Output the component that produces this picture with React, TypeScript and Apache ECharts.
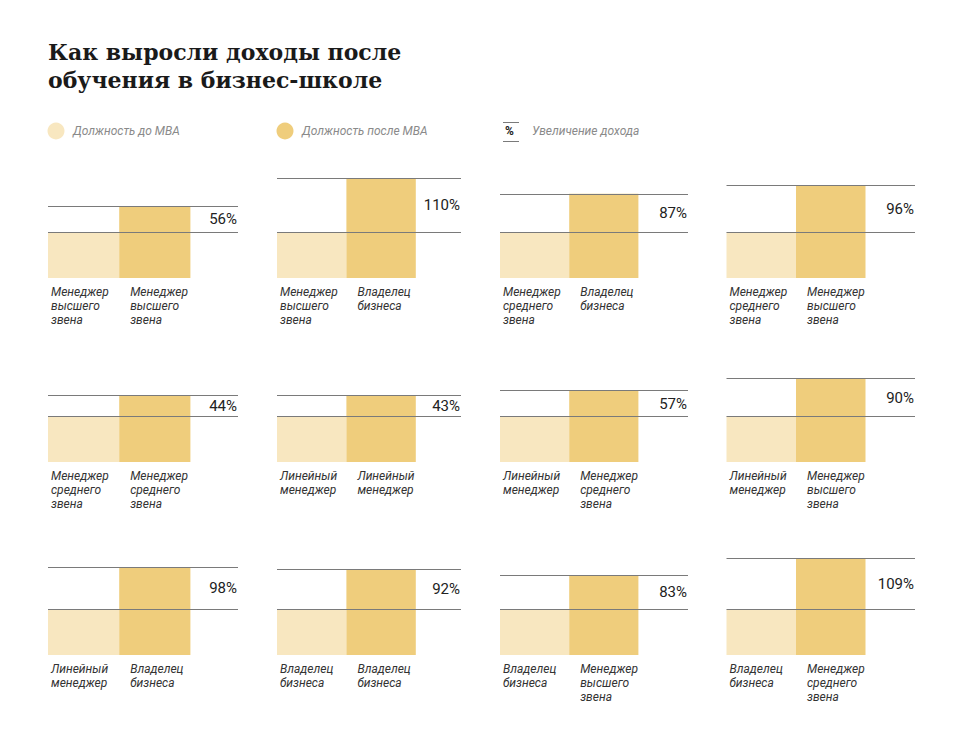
import React, { useEffect, useRef } from "react";
import * as echarts from "echarts";

const titleText = "Как выросли доходы после\nобучения в бизнес-школе";
const legendLabels = ["Должность до MBA", "Должность после MBA", "Увеличение дохода"];

const beforeRoles = [
  "Менеджер\nвысшего\nзвена", "Менеджер\nвысшего\nзвена", "Менеджер\nсреднего\nзвена", "Менеджер\nсреднего\nзвена",
  "Менеджер\nсреднего\nзвена", "Линейный\nменеджер", "Линейный\nменеджер", "Линейный\nменеджер",
  "Линейный\nменеджер", "Владелец\nбизнеса", "Владелец\nбизнеса", "Владелец\nбизнеса",
];
const afterRoles = [
  "Менеджер\nвысшего\nзвена", "Владелец\nбизнеса", "Владелец\nбизнеса", "Менеджер\nвысшего\nзвена",
  "Менеджер\nсреднего\nзвена", "Линейный\nменеджер", "Менеджер\nсреднего\nзвена", "Менеджер\nвысшего\nзвена",
  "Владелец\nбизнеса", "Владелец\nбизнеса", "Менеджер\nвысшего\nзвена", "Менеджер\nсреднего\nзвена",
];
const growthPct = [56, 110, 87, 96, 44, 43, 57, 90, 98, 92, 83, 109];
const beforeIndex = [100, 100, 100, 100, 100, 100, 100, 100, 100, 100, 100, 100];
const afterIndex = [158, 219, 185, 203, 147, 146, 157, 183, 193, 189, 175, 213];

const LIGHT = "#F8E7C0";
const DARK = "#EFCD7C";
const LINE = "#7a7a7a";

const colX = [48, 277, 500, 726.5];
const colW = [190, 184, 188, 188.5];
const colBarW = [71.2, 69.4, 69.2, 69.5];
const rowBottom = [278, 462, 655];
const Y_MAX = 240;
const PX_PER_UNIT = 0.455;
const GRID_H = Y_MAX * PX_PER_UNIT;

export default function App() {
  const ref = useRef<HTMLDivElement>(null);
  useEffect(() => {
    if (!ref.current) return;
    const chart = echarts.init(ref.current, null, { renderer: "svg" });
    const grids: any[] = [];
    const xAxes: any[] = [];
    const yAxes: any[] = [];
    const series: any[] = [];
    growthPct.forEach((pct, i) => {
      const r = Math.floor(i / 4);
      const c = i % 4;
      const xMax = colW[c] / colBarW[c];
      grids.push({ left: colX[c], top: rowBottom[r] - GRID_H, width: colW[c], height: GRID_H });
      xAxes.push({ type: "value", gridIndex: i, min: 0, max: xMax, show: false });
      yAxes.push({ type: "value", gridIndex: i, min: 0, max: Y_MAX, show: false });
      const lbl = (dx: number) => ({
        show: true,
        formatter: "{b}",
        position: ["0%", "100%"],
        offset: [dx, 7],
        align: "left",
        verticalAlign: "top",
        fontFamily: "Roboto",
        fontStyle: "italic",
        fontSize: 12,
        lineHeight: 14,
        color: "#333",
      });
      series.push({
        type: "bar",
        xAxisIndex: i,
        yAxisIndex: i,
        barWidth: colBarW[c],
        silent: true,
        data: [
          { value: [0.5, beforeIndex[i]], name: beforeRoles[i], itemStyle: { color: LIGHT }, label: lbl(3) },
          { value: [1.5, afterIndex[i]], name: afterRoles[i], itemStyle: { color: DARK }, label: lbl(11) },
        ],
        markLine: {
          silent: true,
          symbol: "none",
          label: { show: false },
          lineStyle: { color: LINE, width: 1, type: "solid" },
          data: [{ yAxis: beforeIndex[i] }, { yAxis: afterIndex[i] }],
        },
        markArea: {
          silent: true,
          itemStyle: { color: "rgba(0,0,0,0)" },
          label: {
            show: true,
            position: "insideRight",
            distance: 1,
            formatter: pct + "%",
            fontFamily: "Roboto",
            fontSize: 15,
            color: "#222",
          },
          data: [[{ xAxis: 2, yAxis: beforeIndex[i] }, { xAxis: xMax, yAxis: afterIndex[i] }]],
        },
      });
    });

    const legendText = (x: number, text: string) => ({
      type: "text",
      left: x,
      top: 125,
      style: { text, fontFamily: "Roboto", fontStyle: "italic", fontSize: 12, fill: "#8a8a8a" },
    });

    chart.setOption({
      animation: false,
      backgroundColor: "#fff",
      title: {
        text: titleText,
        left: 48,
        top: 38,
        padding: 0,
        textStyle: { fontFamily: "DejaVu Serif", fontWeight: "bold", fontSize: 22, lineHeight: 28, color: "#1a1a1a" },
      },
      grid: grids,
      xAxis: xAxes,
      yAxis: yAxes,
      series,
      graphic: [
        { type: "circle", shape: { cx: 56, cy: 131, r: 8.5 }, style: { fill: LIGHT } },
        legendText(73, legendLabels[0]),
        { type: "circle", shape: { cx: 285, cy: 131, r: 8.5 }, style: { fill: DARK } },
        legendText(302, legendLabels[1]),
        { type: "line", shape: { x1: 503, y1: 122.5, x2: 519, y2: 122.5 }, style: { stroke: LINE, lineWidth: 1 } },
        { type: "line", shape: { x1: 503, y1: 141.5, x2: 519, y2: 141.5 }, style: { stroke: LINE, lineWidth: 1 } },
        {
          type: "text",
          left: 505,
          top: 125,
          style: { text: "%", fontFamily: "Roboto", fontWeight: "bold", fontSize: 12, fill: "#222" },
        },
        legendText(532, legendLabels[2]),
      ],
    });
    return () => chart.dispose();
  }, []);
  return <div ref={ref} style={{ position: "fixed", left: 0, top: 0, width: 960, height: 742 }} />;
}
